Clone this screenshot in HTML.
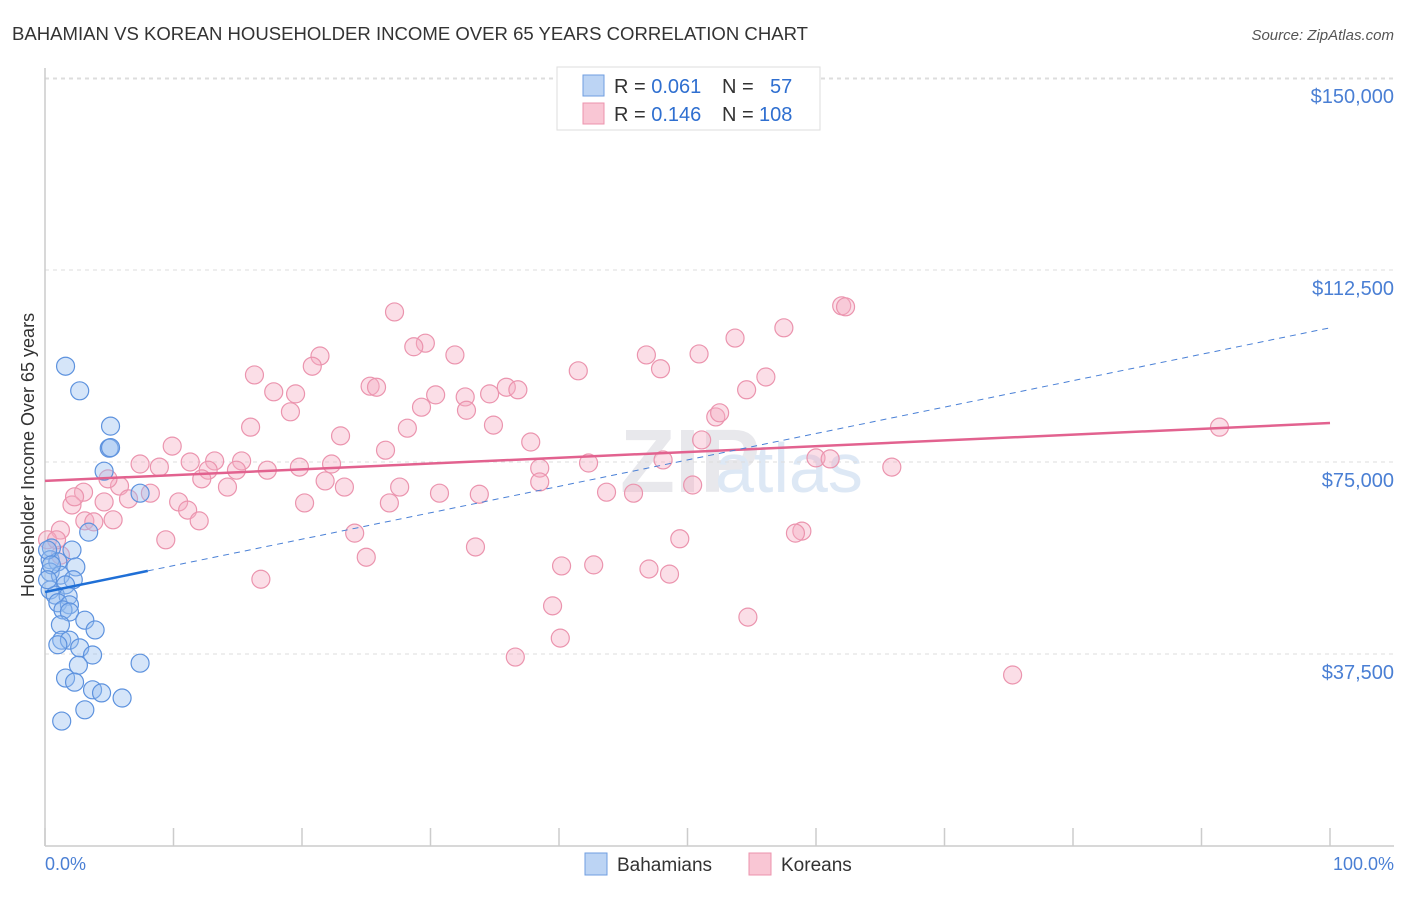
<!DOCTYPE html>
<html><head><meta charset="utf-8"><style>
body{margin:0;background:#fff;font-family:"Liberation Sans",sans-serif;}
svg text{font-family:"Liberation Sans",sans-serif;}
</style></head><body>
<svg id="chart" width="1406" height="892" xmlns="http://www.w3.org/2000/svg">
<text x="12" y="40" font-size="18" fill="#333" textLength="796" lengthAdjust="spacingAndGlyphs">BAHAMIAN VS KOREAN HOUSEHOLDER INCOME OVER 65 YEARS CORRELATION CHART</text>
<text x="1394" y="40" font-size="15" fill="#555" text-anchor="end" font-style="italic">Source: ZipAtlas.com</text>
<text x="620" y="492" font-size="90" fill="#e8e8ec" font-family="Liberation Serif" font-weight="bold">ZIP</text>
<text x="715" y="492" font-size="70" fill="#dde8f5">atlas</text>
<g id="grid"></g>
<line x1="45" y1="68" x2="45" y2="846" stroke="#ccc" stroke-width="1.5"/>
<line x1="45" y1="846" x2="1394" y2="846" stroke="#ccc" stroke-width="1.5"/>
<text x="34" y="455" font-size="18" fill="#333" text-anchor="middle" transform="rotate(-90 34 455)">Householder Income Over 65 years</text>
<text x="45" y="870" font-size="18" fill="#4a7fd4">0.0%</text>
<text x="1394" y="870" font-size="18" fill="#4a7fd4" text-anchor="end">100.0%</text>
<g id="pts"></g>
<g id="lines"></g>
<g>
<rect x="557" y="67" width="263" height="63" fill="#fff" stroke="#ddd"/>
<rect x="583" y="75" width="21" height="21" fill="#bcd4f4" stroke="#6f9ee0"/>
<rect x="583" y="103" width="21" height="21" fill="#f9c6d4" stroke="#ec93ad"/>
<text x="614" y="93" font-size="20" fill="#333">R = <tspan fill="#2f6fd0">0.061</tspan><tspan x="722">N =</tspan><tspan x="770" fill="#2f6fd0">57</tspan></text>
<text x="614" y="121" font-size="20" fill="#333">R = <tspan fill="#2f6fd0">0.146</tspan><tspan x="722">N =</tspan><tspan x="759" fill="#2f6fd0">108</tspan></text>
</g>
<g>
<rect x="585" y="853" width="22" height="22" fill="#bcd4f4" stroke="#6f9ee0"/>
<text x="617" y="871" font-size="19" fill="#333">Bahamians</text>
<rect x="749" y="853" width="22" height="22" fill="#f9c6d4" stroke="#ec93ad"/>
<text x="781" y="871" font-size="19" fill="#333">Koreans</text>
</g>
</svg>
<script>
const yTicks=[37500,75000,112500,150000];
const yTickLabels=["$37,500","$75,000","$112,500","$150,000"];
const xTicks=[0,10,20,30,40,50,60,70,80,90,100];
const blueX=[1.6,2.7,5.1,5.0,5.1,4.6,7.4,3.4,0.5,2.1,0.4,1.0,2.4,0.4,1.2,2.2,1.6,0.4,0.8,1.8,1.0,1.9,1.4,1.9,3.1,1.2,3.9,1.3,1.9,1.0,2.7,3.7,2.6,7.4,1.6,2.3,3.7,4.4,6.0,3.1,1.3,0.2,0.5,0.2];
const blueY=[93.7,88.9,82.0,77.7,77.8,73.2,68.9,61.3,58.2,57.8,55.9,55.5,54.5,53.5,52.9,52.0,51.0,50.0,49.0,48.8,47.5,47.1,46.1,45.7,44.1,43.2,42.2,40.2,40.2,39.3,38.7,37.3,35.3,35.7,32.8,32.0,30.5,29.9,28.9,26.6,24.4,57.8,54.9,52.0];
const pinkX=[27.2,62.0,62.3,57.5,53.7,29.6,28.7,21.4,31.9,46.8,50.9,20.8,16.3,25.3,25.8,41.5,47.9,56.1,35.9,36.8,32.7,30.4,34.6,17.8,19.5,54.6,29.3,32.8,19.1,52.2,52.5,34.9,28.2,16.0,23.0,37.8,51.1,91.4,9.9,26.5,7.4,8.9,13.2,11.3,15.3,12.7,14.9,22.3,19.8,17.3,38.5,42.3,48.1,60.0,61.1,65.9,12.2,14.2,21.8,23.3,27.6,38.5,50.4,43.7,45.8,33.8,30.7,8.2,5.8,4.9,3.0,4.6,2.1,6.5,10.4,11.1,12.0,20.2,26.8,3.1,3.8,5.3,1.2,1.2,9.4,24.1,33.5,49.4,58.9,58.4,25.0,40.2,42.7,47.0,48.6,16.8,39.5,54.7,40.1,36.6,75.3,2.3,0.2,0.9];
const pinkY=[104.3,105.5,105.3,101.2,99.2,98.2,97.5,95.7,95.9,95.9,96.1,93.7,92.0,89.8,89.6,92.8,93.2,91.6,89.6,89.1,87.7,88.1,88.3,88.7,88.3,89.1,85.7,85.1,84.8,83.8,84.6,82.2,81.6,81.8,80.1,78.9,79.3,81.8,78.1,77.3,74.6,74.0,75.2,75.0,75.2,73.4,73.4,74.6,74.0,73.4,73.8,74.8,75.4,75.8,75.6,74.0,71.7,70.1,71.3,70.1,70.1,71.1,70.5,69.1,68.9,68.7,68.9,68.9,70.3,71.7,69.1,67.2,66.6,67.8,67.2,65.6,63.5,67.0,67.0,63.5,63.3,63.7,61.7,56.8,59.8,61.1,58.4,60.0,61.5,61.1,56.4,54.7,54.9,54.1,53.1,52.1,46.9,44.7,40.6,36.9,33.4,68.2,59.8,59.8];
const pinkTrend=[71.3,82.6];
const blueTrend=[49.6,101.2];
const blueSolidEnd=8.0;
const NS="http://www.w3.org/2000/svg";
const sx=p=>45+p*12.85;
const sy=k=>846-k/195.3*1000;
function mk(t,a,parent){const e=document.createElementNS(NS,t);for(const k in a)e.setAttribute(k,a[k]);parent.appendChild(e);return e;}
const grid=document.getElementById('grid');
yTicks.forEach((v,i)=>{
 const l=mk('line',{x1:45,x2:1394,y1:sy(v/1000),y2:sy(v/1000),stroke:'#ddd','stroke-dasharray':'4 4'},grid);
 
 
 const t=mk('text',{x:1394,y:sy(v/1000)+25,'font-size':20,fill:'#4a7fd4','text-anchor':'end'},grid);
 t.textContent=yTickLabels[i];
 
 
});
mk('line',{x1:45,x2:1394,y1:79,y2:79,stroke:'#ddd','stroke-dasharray':'4 4'},grid);
xTicks.forEach(v=>{
 const l=mk('line',{x1:sx(v),x2:sx(v),y1:828,y2:846,stroke:'#ccc','stroke-width':1.5},grid);
 
 
});
const pts=document.getElementById('pts');
pinkX.forEach((x,i)=>{
 const c=mk('circle',{cx:sx(x),cy:sy(pinkY[i]),r:9,fill:'rgba(246,172,194,0.4)',stroke:'#eb94ae','stroke-width':1.2},pts);
 
 
});
blueX.forEach((x,i)=>{
 const c=mk('circle',{cx:sx(x),cy:sy(blueY[i]),r:9,fill:'rgba(150,190,240,0.4)',stroke:'#5d92de','stroke-width':1.2},pts);
 
 
});
const lines=document.getElementById('lines');
const bAt=p=>blueTrend[0]+(blueTrend[1]-blueTrend[0])*p/100;
const pl=mk('line',{x1:sx(0),y1:sy(pinkTrend[0]),x2:sx(100),y2:sy(pinkTrend[1]),stroke:'#e2628f','stroke-width':2.5},lines);


const bd=mk('line',{x1:sx(blueSolidEnd),y1:sy(bAt(blueSolidEnd)),x2:sx(100),y2:sy(bAt(100)),stroke:'#4a80d6','stroke-width':1,'stroke-dasharray':'6 5'},lines);


const bs=mk('line',{x1:sx(0),y1:sy(bAt(0)),x2:sx(blueSolidEnd),y2:sy(bAt(blueSolidEnd)),stroke:'#1f6fd6','stroke-width':2.5},lines);


</script>
</body></html>
